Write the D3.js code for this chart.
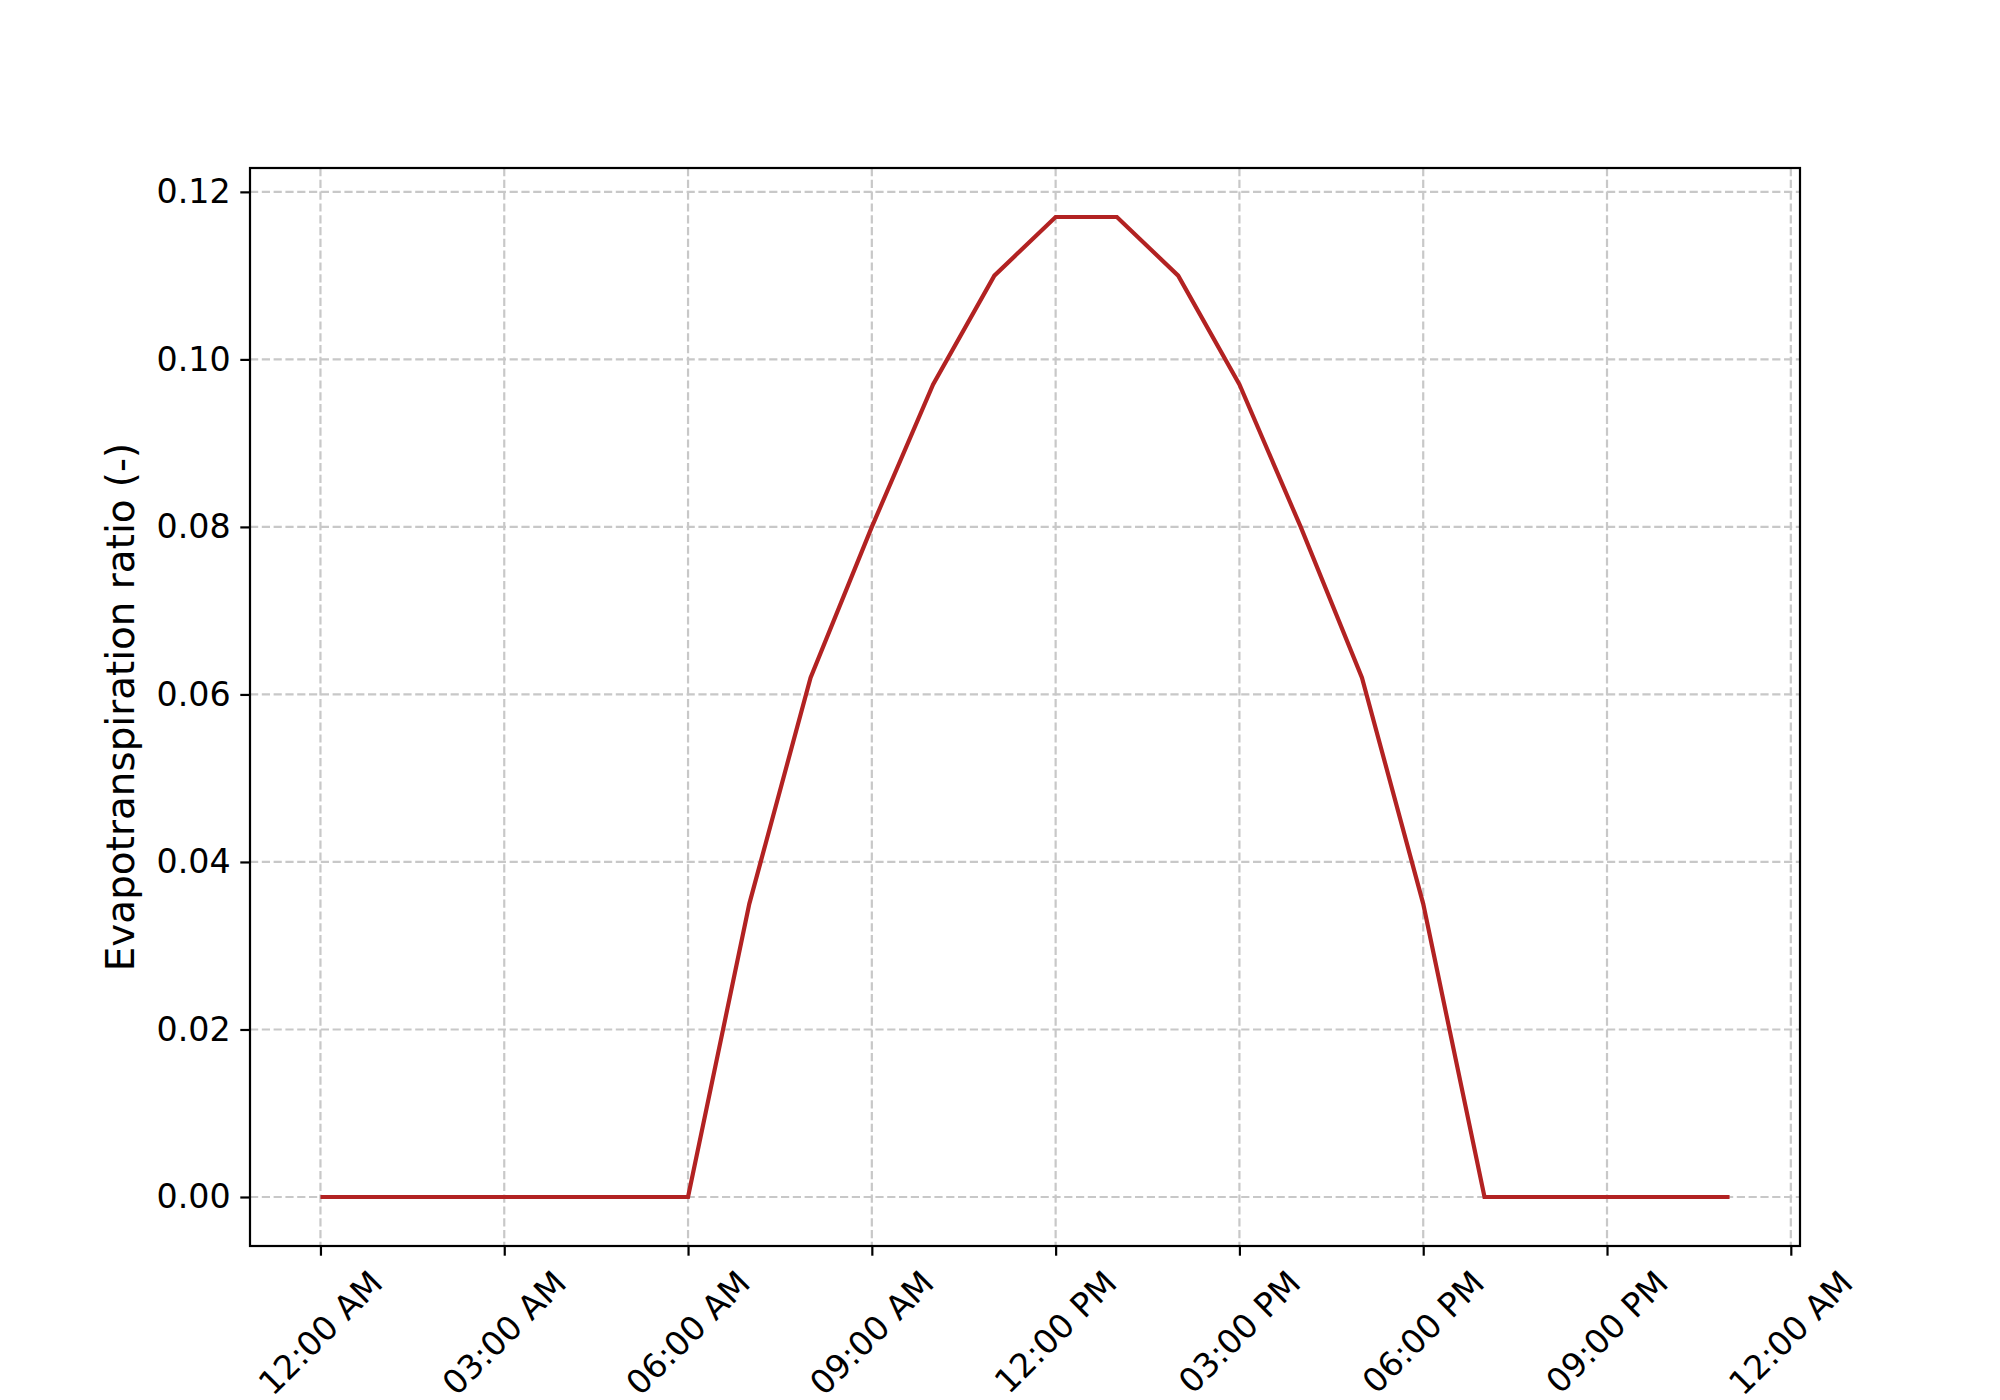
<!DOCTYPE html>
<html>
<head>
<meta charset="utf-8">
<script src="https://cdn.jsdelivr.net/npm/d3@7"></script>
<style>
  html, body { margin: 0; padding: 0; background: #ffffff; }
  svg { display: block; }
  text { font-family: "DejaVu Sans", sans-serif; fill: #000; }
</style>
</head>
<body>
<svg id="chart" width="2000" height="1400"></svg>
<script>
// ---- data ----
const hours = [0, 1, 2, 3, 4, 5, 6, 7, 8, 9, 10, 11, 12, 13, 14, 15, 16, 17, 18, 19, 20, 21, 22, 23];
const etRatio = [0, 0, 0, 0, 0, 0, 0, 0.035, 0.062, 0.080, 0.097, 0.110, 0.117, 0.117, 0.110, 0.097, 0.080, 0.062, 0.035, 0, 0, 0, 0, 0];
const xTickHours = [0, 3, 6, 9, 12, 15, 18, 21, 24];
const yTickValues = [0.00, 0.02, 0.04, 0.06, 0.08, 0.10, 0.12];
const yLabel = "Evapotranspiration ratio (-)";

(function () {
// ---- layout ----
const mLeft = 250, mRight = 1800, mTop = 168, mBottom = 1246;
const svg = d3.select("#chart");

const base = new Date(2023, 0, 1, 0, 0, 0);
const t = h => new Date(base.getTime() + h * 3600 * 1000);
const points = hours.map((h, i) => ({ time: t(h), v: etRatio[i] }));

const xPad = (hours[hours.length - 1] - hours[0]) * 0.05;
const x = d3.scaleTime()
  .domain([t(hours[0] - xPad), t(hours[hours.length - 1] + xPad)])
  .range([mLeft, mRight]);
const yMax = d3.max(etRatio), yMin = d3.min(etRatio);
const yPad = (yMax - yMin) * 0.05;
const y = d3.scaleLinear()
  .domain([yMin - yPad, yMax + yPad])
  .range([mBottom, mTop]);

const gridColor = "#c8c8c8";
const dash = "8.2,3.6";

// grid
const grid = svg.append("g");
xTickHours.forEach(h => {
  grid.append("line")
    .attr("x1", x(t(h))).attr("x2", x(t(h)))
    .attr("y1", mTop).attr("y2", mBottom)
    .attr("stroke", gridColor).attr("stroke-width", 2.2)
    .attr("stroke-dasharray", dash);
});
yTickValues.forEach(v => {
  grid.append("line")
    .attr("x1", mLeft).attr("x2", mRight)
    .attr("y1", y(v)).attr("y2", y(v))
    .attr("stroke", gridColor).attr("stroke-width", 2.2)
    .attr("stroke-dasharray", dash);
});

// line
const line = d3.line().x(d => x(d.time)).y(d => y(d.v));
svg.append("path")
  .datum(points)
  .attr("d", line)
  .attr("fill", "none")
  .attr("stroke", "#b22222")
  .attr("stroke-width", 4.2)
  .attr("stroke-linejoin", "miter")
  .attr("stroke-linecap", "butt");

// spines
svg.append("rect")
  .attr("x", mLeft).attr("y", mTop)
  .attr("width", mRight - mLeft).attr("height", mBottom - mTop)
  .attr("fill", "none").attr("stroke", "#000").attr("stroke-width", 2.2);

// y axis
const yAxis = d3.axisLeft(y)
  .tickValues(yTickValues)
  .tickFormat(d3.format(".2f"))
  .tickSize(9.7)
  .tickPadding(9.7);
const gy = svg.append("g").attr("transform", `translate(${mLeft},0)`).call(yAxis);
gy.select(".domain").remove();
gy.selectAll(".tick line").attr("stroke", "#000").attr("stroke-width", 2.2);
gy.selectAll(".tick text")
  .attr("font-family", "DejaVu Sans")
  .attr("font-size", 33.3)
  .attr("fill", "#000");

// x axis
const fmt = d3.timeFormat("%I:%M %p");
const xAxis = d3.axisBottom(x)
  .tickValues(xTickHours.map(t))
  .tickFormat(fmt)
  .tickSize(9.7);
const gx = svg.append("g").attr("transform", `translate(0,${mBottom})`).call(xAxis);
gx.select(".domain").remove();
gx.selectAll(".tick line").attr("stroke", "#000").attr("stroke-width", 2.2);
gx.selectAll(".tick text").remove();

const fs = 33.3;
const labelTop = mBottom + 9.7 + 9.7;
xTickHours.forEach(h => {
  const tx = svg.append("text")
    .attr("font-family", "DejaVu Sans")
    .attr("font-size", fs)
    .attr("text-anchor", "middle")
    .attr("dominant-baseline", "central")
    .text(fmt(t(h)));
  const w = tx.node().getComputedTextLength();
  const hh = fs * 1.0;
  const half = (w + hh) / (2 * Math.SQRT2);
  const cx = x(t(h)), cy = labelTop + half;
  tx.attr("transform", `translate(${cx},${cy}) rotate(-45)`);
});

// y label
svg.append("text")
  .attr("font-family", "DejaVu Sans")
  .attr("font-size", 38.9)
  .attr("text-anchor", "middle")
  .attr("transform", `translate(134,${(mTop + mBottom) / 2}) rotate(-90)`)
  .text(yLabel);
})();
</script>
</body>
</html>
